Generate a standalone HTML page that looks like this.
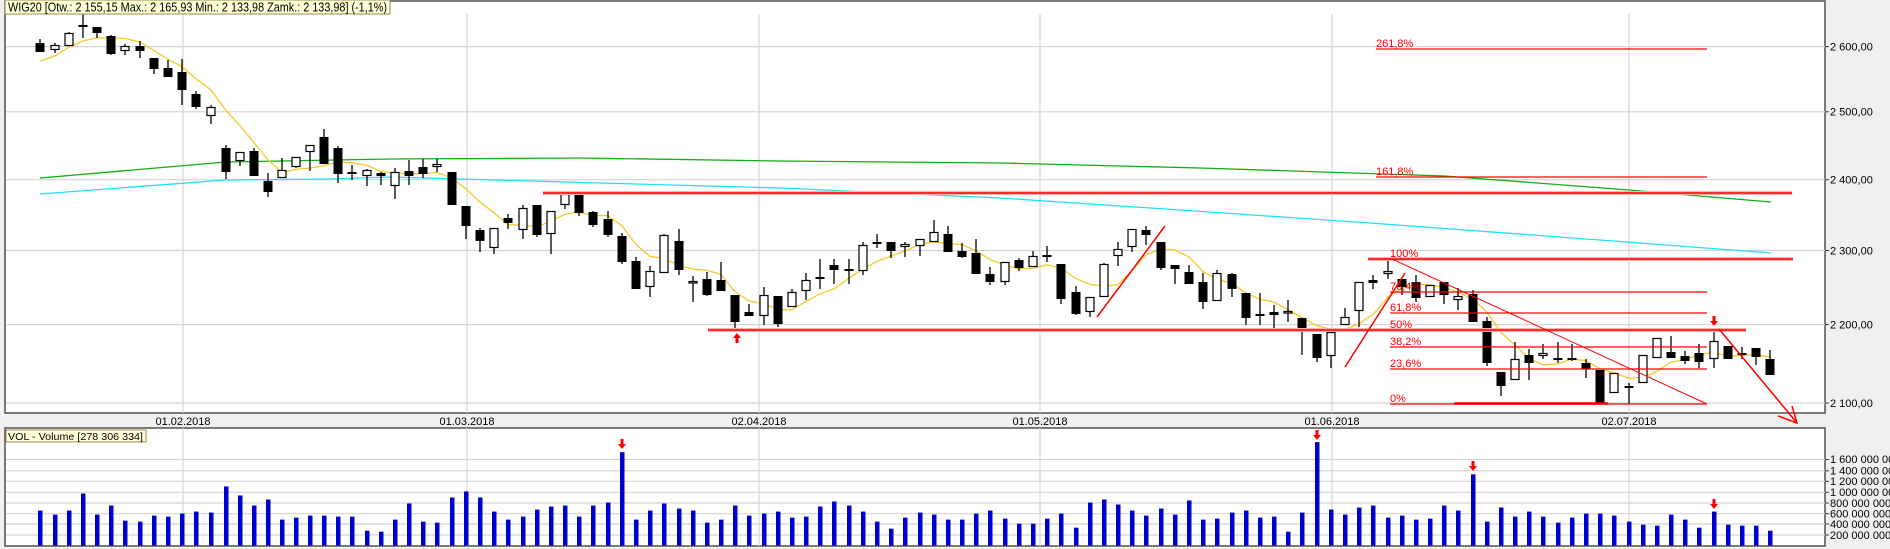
<!DOCTYPE html>
<html><head><meta charset="utf-8"><style>
html,body{margin:0;padding:0;background:#f0f0f0;}
svg{display:block;font-family:"Liberation Sans","DejaVu Sans",sans-serif;}
</style></head><body>
<svg id="s" width="1890" height="549" viewBox="0 0 1890 549" xmlns="http://www.w3.org/2000/svg">
<rect x="0" y="0" width="1890" height="549" fill="#f0f0f0"/>
<rect x="5" y="1" width="1820" height="412" fill="#fff" stroke="#505050" stroke-width="1.5"/>
<rect x="5" y="428" width="1820" height="118" fill="#fff" stroke="#505050" stroke-width="1.5"/>
<g id="grid" stroke="#d4d4d4" stroke-width="1.2"></g>
<g fill="#000" font-size="11">
<text x="1830" y="50.5">2 600,00</text>
<text x="1830" y="115.5">2 500,00</text>
<text x="1830" y="183.5">2 400,00</text>
<text x="1830" y="254.5">2 300,00</text>
<text x="1830" y="328.5">2 200,00</text>
<text x="1830" y="407">2 100,00</text>
<text x="1830" y="463">1 600 000 000</text>
<text x="1830" y="474.5">1 400 000 000</text>
<text x="1830" y="485">1 200 000 000</text>
<text x="1830" y="496">1 000 000 000</text>
<text x="1830" y="507">800 000 000</text>
<text x="1830" y="517.5">600 000 000</text>
<text x="1830" y="528">400 000 000</text>
<text x="1830" y="539">200 000 000</text>
<text x="183" y="425" text-anchor="middle">01.02.2018</text>
<text x="467" y="425" text-anchor="middle">01.03.2018</text>
<text x="759" y="425" text-anchor="middle">02.04.2018</text>
<text x="1040" y="425" text-anchor="middle">01.05.2018</text>
<text x="1332" y="425" text-anchor="middle">01.06.2018</text>
<text x="1629" y="425" text-anchor="middle">02.07.2018</text>
</g>
<g stroke="#404040" stroke-width="1" id="ticks"></g>
<polyline fill="none" stroke="#10b010" stroke-width="1.3" points="40,178 226,162 390,159 580,158 780,161 1000,163 1200,168 1445,176 1629,190 1771,202"/>
<polyline fill="none" stroke="#20e0f0" stroke-width="1.3" points="40,194 226,180 330,179 390,177 600,183 780,188 1000,198 1180,210 1370,223 1600,240 1771,253"/>
<polyline id="ma" fill="none" stroke="#f8c828" stroke-width="1.3"/>
<g id="candles"></g>
<g id="vol" fill="#0000cc"></g>
<!-- red lines -->
<g stroke="#ff0000" fill="none">
<line x1="543" y1="193" x2="1792" y2="193" stroke="#ffb0b0" stroke-width="4"/>
<line x1="543" y1="193" x2="1792" y2="193" stroke-width="1.6"/>
<line x1="708" y1="330" x2="1746" y2="330" stroke="#ffb0b0" stroke-width="4"/>
<line x1="708" y1="330" x2="1746" y2="330" stroke-width="1.6"/>
<line x1="1368" y1="259" x2="1793" y2="259" stroke="#ffb0b0" stroke-width="4"/>
<line x1="1368" y1="259" x2="1793" y2="259" stroke-width="1.6"/>
<line x1="1376" y1="49" x2="1707" y2="49" stroke-width="1.2"/>
<line x1="1376" y1="177" x2="1707" y2="177" stroke-width="1.2"/>
<line x1="1390" y1="292" x2="1707" y2="292" stroke-width="1.2"/>
<line x1="1390" y1="313" x2="1707" y2="313" stroke-width="1.2"/>
<line x1="1390" y1="347" x2="1707" y2="347" stroke-width="1.2"/>
<line x1="1390" y1="369" x2="1707" y2="369" stroke-width="1.2"/>
<line x1="1390" y1="404" x2="1707" y2="404" stroke-width="1.2"/>
<line x1="1454" y1="403.5" x2="1608" y2="403.5" stroke-width="2.5"/>
<line x1="1097" y1="317" x2="1165" y2="226" stroke-width="1.5"/>
<line x1="1345" y1="367" x2="1405" y2="273" stroke-width="1.5"/>
<line x1="1392" y1="259" x2="1707" y2="404" stroke-width="1"/>
<line x1="1719" y1="329" x2="1797" y2="423" stroke-width="1.5"/>
<polyline points="1778,416 1797,423 1792,406" stroke-width="1.5"/>
</g>
<g fill="#ff0000">
<path d="M737,333 l-4,5 h2.5 v5 h3 v-5 h2.5 z"/>
<path d="M1714,326 l-4,-5 h2.5 v-5 h3 v5 h2.5 z"/>
<path d="M622,449 l-4,-5 h2.5 v-5 h3 v5 h2.5 z"/>
<path d="M1317,440 l-4,-5 h2.5 v-5 h3 v5 h2.5 z"/>
<path d="M1473,471 l-4,-5 h2.5 v-5 h3 v5 h2.5 z"/>
<path d="M1714,509 l-4,-5 h2.5 v-5 h3 v5 h2.5 z"/>
</g>
<g fill="#ff0000" font-size="11">
<text x="1376" y="47">261,8%</text>
<text x="1376" y="175">161,8%</text>
<text x="1390" y="257">100%</text>
<text x="1390" y="290">76,4%</text>
<text x="1390" y="311">61,8%</text>
<text x="1390" y="328">50%</text>
<text x="1390" y="345">38,2%</text>
<text x="1390" y="367">23,6%</text>
<text x="1390" y="402">0%</text>
</g>
<rect x="5" y="0" width="385" height="14" fill="#ffffd8" stroke="#a08850" stroke-width="1"/>
<text x="8" y="11.5" font-size="12.5" textLength="379" lengthAdjust="spacingAndGlyphs" fill="#000">WIG20 [Otw.: 2 155,15  Max.: 2 165,93  Min.: 2 133,98  Zamk.: 2 133,98] (-1,1%)</text>
<rect x="6" y="430" width="140" height="12" fill="#ffffd8" stroke="#a08850" stroke-width="1"/>
<text x="8" y="440" font-size="10.5" textLength="135" lengthAdjust="spacingAndGlyphs" fill="#000">VOL - Volume [278 306 334]</text>
</svg>
<script>
var NS="http://www.w3.org/2000/svg";
function el(p,t,a){var e=document.createElementNS(NS,t);for(var k in a)e.setAttribute(k,a[k]);p.appendChild(e);return e;}
var g=document.getElementById('grid');
[46.6,111.8,179.7,250.5,324.6,403,459.5,470.8,481.3,492.3,503,513.7,524,535].forEach(function(y){el(g,'line',{x1:6,x2:1825,y1:y,y2:y});});
[183,467,759,1040,1332,1629].forEach(function(x){el(g,'line',{x1:x,x2:x,y1:14,y2:413});el(g,'line',{x1:x,x2:x,y1:428,y2:546});});
var tk=document.getElementById('ticks');
[46.6,111.8,179.7,250.5,324.6,403,459.5,470.8,481.3,492.3,503,513.7,524,535].forEach(function(y){el(tk,'line',{x1:1825,x2:1829,y1:y,y2:y});});
var C=[[40,43,52,39,52,'b'],[55,45,50,43,53,'w'],[69,33,46,32,46,'w'],[83,26,26,14,38,'d'],[97,27,33,27,38,'b'],[111,36,54,35,55,'b'],[125,46,51,44,55,'w'],[140,46,51,41,58,'b'],[154,58,69,58,74,'b'],[168,68,77,60,77,'b'],[182,72,90,59,105,'b'],[196,94,107,91,109,'b'],[211,107,116,105,124,'w'],[226,148,172,145,179,'b'],[240,152,161,152,166,'w'],[254,151,176,148,176,'b'],[268,181,192,173,197,'b'],[282,170,178,158,178,'w'],[296,157,167,157,168,'w'],[310,145,152,145,171,'w'],[324,137,164,129,164,'b'],[338,148,174,146,183,'b'],[352,172,174,165,180,'b'],[367,170,176,169,186,'w'],[381,173,176,172,185,'b'],[395,172,186,168,199,'w'],[409,171,176,160,185,'b'],[423,167,174,159,178,'b'],[437,164,167,159,172,'w'],[452,172,205,172,205,'b'],[466,206,226,206,239,'b'],[480,230,241,228,252,'b'],[494,228,248,228,254,'w'],[508,218,223,214,229,'b'],[523,208,230,205,239,'w'],[537,205,235,205,237,'b'],[551,211,234,211,254,'w'],[565,194,205,194,209,'w'],[579,194,213,194,216,'b'],[593,212,225,211,227,'b'],[608,219,235,211,237,'b'],[622,236,262,233,264,'b'],[636,261,289,257,289,'b'],[650,271,287,266,297,'w'],[664,235,273,234,273,'w'],[679,241,270,229,275,'b'],[693,281,283,276,302,'w'],[707,279,295,272,296,'b'],[721,280,291,262,291,'b'],[735,295,322,295,330,'b'],[749,312,316,304,316,'b'],[764,295,316,287,325,'w'],[778,296,324,296,327,'b'],[792,292,307,289,307,'w'],[806,280,291,273,300,'w'],[820,278,278,259,289,'d'],[834,265,270,259,284,'b'],[849,269,271,259,284,'b'],[863,245,271,242,275,'w'],[877,243,243,234,248,'d'],[891,242,251,242,258,'b'],[905,244,247,242,257,'w'],[920,239,246,239,256,'w'],[934,232,242,220,242,'w'],[948,234,252,226,252,'b'],[962,251,257,243,258,'b'],[976,253,274,239,274,'b'],[990,274,282,267,285,'b'],[1005,262,282,262,285,'w'],[1019,260,268,258,271,'b'],[1033,256,267,251,267,'w'],[1047,256,256,246,262,'d'],[1061,264,299,264,304,'b'],[1076,292,314,286,315,'b'],[1090,297,312,297,317,'w'],[1104,264,297,263,297,'w'],[1118,249,256,242,266,'w'],[1132,229,247,229,252,'w'],[1146,230,235,226,245,'b'],[1161,242,268,242,270,'b'],[1175,265,269,265,284,'b'],[1189,272,284,265,284,'b'],[1203,282,302,273,309,'b'],[1217,273,301,270,301,'w'],[1232,274,289,273,297,'b'],[1246,293,318,293,325,'b'],[1260,314,315,293,325,'b'],[1274,312,315,305,328,'b'],[1288,311,313,300,322,'w'],[1302,318,330,318,355,'b'],[1317,334,358,334,362,'b'],[1331,332,356,332,368,'w'],[1345,317,325,308,325,'w'],[1359,282,311,282,327,'w'],[1373,280,283,275,289,'b'],[1388,271,274,260,279,'w'],[1402,279,287,279,295,'b'],[1416,282,298,275,302,'b'],[1430,285,297,285,297,'w'],[1444,282,295,282,304,'b'],[1458,296,300,288,310,'w'],[1473,294,322,290,322,'b'],[1487,321,363,317,366,'b'],[1501,372,386,372,396,'b'],[1515,359,380,342,380,'w'],[1529,355,363,349,380,'b'],[1543,353,356,344,359,'w'],[1558,358,359,342,363,'b'],[1572,358,360,344,361,'b'],[1586,363,369,359,378,'b'],[1600,370,403,370,403,'b'],[1614,373,393,373,393,'w'],[1629,387,387,383,404,'d'],[1643,355,383,355,383,'w'],[1657,338,358,338,358,'w'],[1671,352,358,336,358,'b'],[1685,356,361,351,364,'b'],[1699,353,362,344,368,'b'],[1714,341,359,328,368,'w'],[1728,346,359,346,359,'b'],[1742,354,354,347,359,'d'],[1756,348,357,348,365,'b'],[1770,359,375,350,375,'b']];
var cg=document.getElementById('candles');
var closes=[];
C.forEach(function(c){
 var x=c[0],t=c[1],b=c[2],h=c[3],l=c[4],k=c[5];
 closes.push(k=='b'?b:t);
 el(cg,'line',{x1:x,x2:x,y1:h,y2:l,stroke:'#000','stroke-width':1.3});
 if(k=='d'){el(cg,'rect',{x:x-4.5,y:t-1,width:9,height:2,fill:'#000'});}
 else if(k=='b'){el(cg,'rect',{x:x-4.5,y:t,width:9,height:Math.max(b-t,2),fill:'#000'});}
 else {el(cg,'rect',{x:x-4,y:t+0.5,width:8,height:Math.max(b-t-1,1.5),fill:'#fff',stroke:'#000','stroke-width':1.2});}
});
var pts=[[40,61],[55,56],[69,47],[83,41]];
for(var i=4;i<C.length;i++){var s=0;for(var j=i-4;j<=i;j++)s+=closes[j];pts.push([C[i][0],s/5]);}
document.getElementById('ma').setAttribute('points',pts.map(function(p){return p[0]+','+p[1].toFixed(1);}).join(' '));
var V=[255,267,255,204,267,240,285,288,270,273,264,258,261,183,210,240,222,282,276,270,270,273,273,315,318,282,234,288,291,216,198,216,258,282,273,252,243,240,273,240,231,81,
282,255,234,249,255,291,282,240,270,264,258,276,273,243,228,240,258,288,309,276,261,
267,282,282,264,255,279,294,294,279,264,306,231,222,237,255,270,249,267,225,282,279,261,255,276,273,318,261,51,
252,267,246,240,276,270,282,279,240,255,147,288,246,273,258,273,291,276,264,264,270,288,297,300,267,282,306,258,297,300,300,315];
var vg=document.getElementById('vol');
for(var i=0;i<C.length&&i<V.length;i++){var y=425+V[i]/2.98;el(vg,'rect',{x:C[i][0]-2,y:y,width:4.5,height:545.5-y});}
</script>
</body></html>
